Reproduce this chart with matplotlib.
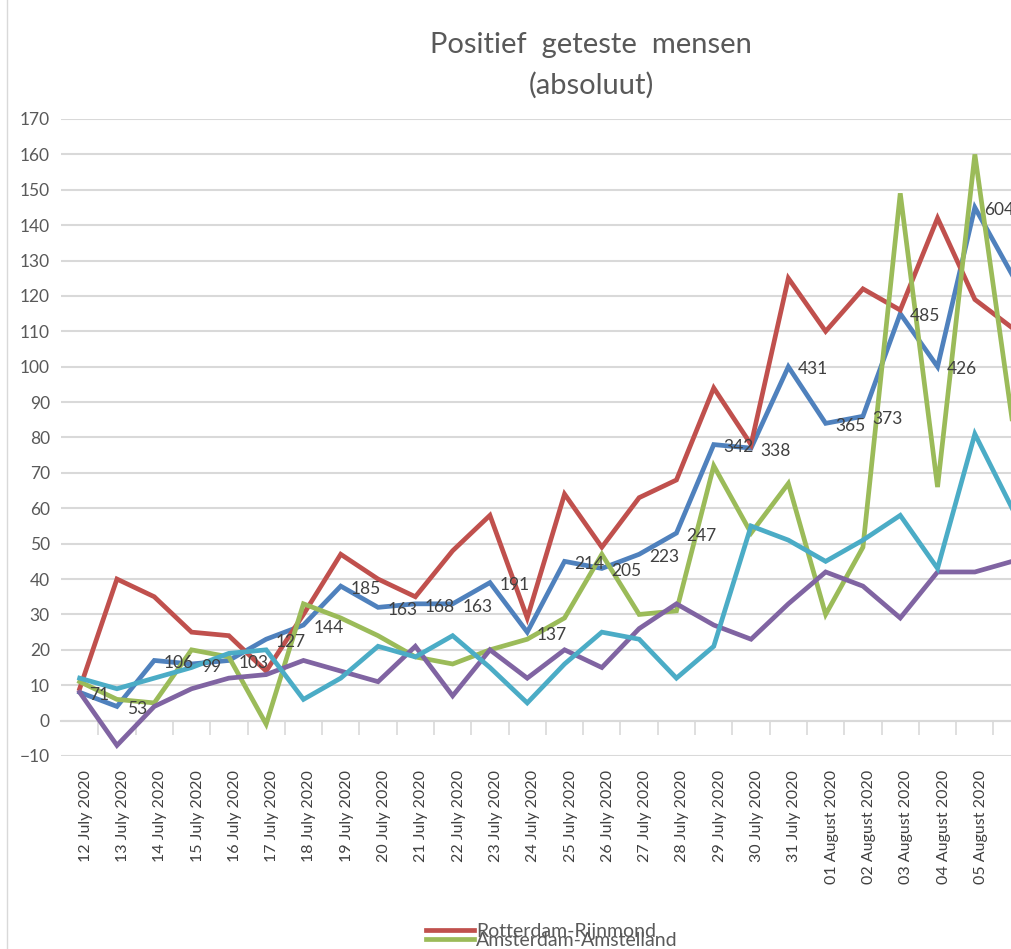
import matplotlib

matplotlib.use("Agg")
import matplotlib.pyplot as plt  # noqa: E402
import matplotlib.transforms as mtransforms  # noqa: E402
import numpy as np  # noqa: E402

plt.rcParams["font.family"] = ["Lato", "DejaVu Sans"]

# categories (the last one is cut off by the right edge of the picture)
dates = [f"{d} July 2020" for d in range(12, 32)] + \
        [f"0{d} August 2020" for d in range(1, 7)]

# positief geteste mensen per dag
rotterdam = [9, 40, 35, 25, 24, 14, 30, 47, 40, 35, 48, 58, 29, 64, 49, 63, 68,
             94, 78, 125, 110, 122, 116, 142, 119, 111]
amsterdam = [11, 6, 5, 20, 18, -1, 33, 29, 24, 18, 16, 20, 23, 29, 47, 30, 31,
             72, 53, 67, 30, 49, 149, 66, 160, 85]
blue_vals = [8, 4, 17, 16, 17, 23, 27, 38, 32, 33, 33, 39, 25, 45, 43, 47, 53,
             78, 77, 100, 84, 86, 115, 100, 145, 126]
purple_vals = [8, -7, 4, 9, 12, 13, 17, 14, 11, 21, 7, 20, 12, 20, 15, 26, 33,
               27, 23, 33, 42, 38, 29, 42, 42, 45]
cyan_vals = [12, 9, 12, 15, 19, 20, 6, 12, 21, 18, 24, 15, 5, 16, 25, 23, 12,
             21, 55, 51, 45, 51, 58, 43, 81, 60]
# data labels shown next to the blue line
blue_labels = [71, 53, 106, 99, 103, 127, 144, 185, 163, 168, 163, 191, 137,
               214, 205, 223, 247, 342, 338, 431, 365, 373, 485, 426, 604]

C_RED, C_GREEN, C_BLUE = "#C0504D", "#9BBB59", "#4F81BD"
C_PURPLE, C_CYAN = "#8064A2", "#4BACC6"
INK, GRID = "#595959", "#D9D9D9"

W, H = 1011, 949
fig = plt.figure(figsize=(W / 100, H / 100), dpi=100)
n = len(dates)
step = 37.3
xmax = n - 1.03          # the picture is cropped just before the last day
ax = fig.add_axes([61 / W, (H - 756) / H, (xmax + 0.5) * step / W, 637 / H])

x = np.arange(n)
for vals, col in [(blue_vals, C_BLUE), (rotterdam, C_RED), (amsterdam, C_GREEN),
                  (purple_vals, C_PURPLE), (cyan_vals, C_CYAN)]:
    ax.plot(x, vals, color=col, lw=3.4, zorder=3, solid_joinstyle="miter")

for i, lab in enumerate(blue_labels):
    ax.annotate(str(lab), (x[i], blue_vals[i]), xytext=(7, -2),
                textcoords="offset points", ha="left", va="center",
                fontsize=12.5, color="#404040", zorder=4)

# date labels: drawn as text under the plot, a little right of each category
lab_tr = mtransforms.blended_transform_factory(ax.transData, ax.transAxes) + \
    mtransforms.ScaledTranslation(6 / 100, -14 / 100, fig.dpi_scale_trans)
for i, d in enumerate(dates):
    if i <= xmax:
        ax.text(x[i], 0, d, transform=lab_tr, rotation=90, ha="center",
                va="top", fontsize=11.5, color="#404040", clip_on=False)

ax.set_yticks(np.arange(-10, 171, 10))
ax.set_xticks([])
ax.set_xlim(-0.5, xmax)
ax.set_ylim(-10, 170)
ax.tick_params(axis="y", length=0, pad=8, labelsize=12.5, colors=INK)
ax.grid(axis="y", color=GRID, lw=1.5)
ax.set_axisbelow(True)
for s in ax.spines.values():
    s.set_visible(False)

# category axis crosses at 0, tick marks between categories
sec = ax.secondary_xaxis(10 / 180)
sec.set_xticks(x[:-1] + 0.5)
sec.tick_params(length=10, width=1.2, color=GRID, labelbottom=False,
                direction="out")
sec.spines["bottom"].set_color(GRID)
sec.spines["bottom"].set_linewidth(1.5)

# left border of the chart area
fig.add_artist(plt.Line2D([7 / W, 7 / W], [0, 1], color=GRID, lw=1.0))

fig.text(591 / W, 1 - 45 / H, "Positief  geteste  mensen", ha="center",
         va="center", fontsize=21, color=INK)
fig.text(591 / W, 1 - 85 / H, "(absoluut)", ha="center", va="center",
         fontsize=21, color=INK)

handles = [plt.Line2D([], [], color=C_RED, lw=3.4),
           plt.Line2D([], [], color=C_GREEN, lw=3.4)]
fig.legend(handles, ["Rotterdam-Rijnmond", "Amsterdam-Amstelland"],
           loc="upper left", bbox_to_anchor=(416 / W, 1 - 913 / H),
           frameon=False, fontsize=14, labelspacing=-0.4, borderpad=0,
           handlelength=2.5, handletextpad=0.1, labelcolor=INK)

fig.savefig("out.png", dpi=100, facecolor="white")
